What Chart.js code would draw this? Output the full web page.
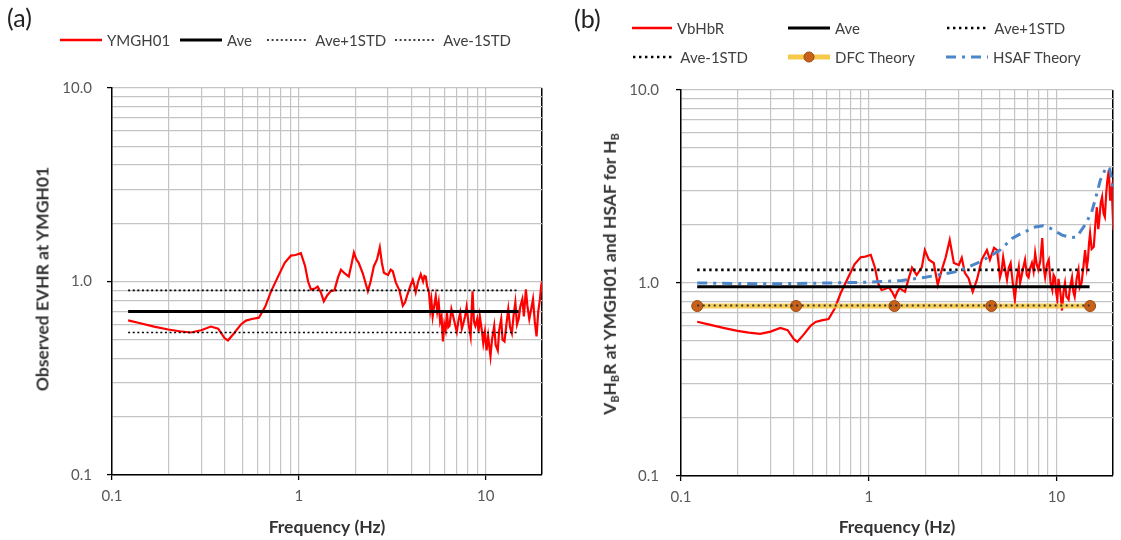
<!DOCTYPE html>
<html>
<head>
<meta charset="utf-8">
<script src="https://cdn.jsdelivr.net/npm/chart.js@4.4.0/dist/chart.umd.min.js"></script>
<style>
  body { margin: 0; background: #fff; font-family: Lato, "Liberation Sans", sans-serif; }
  #wrap { position: relative; width: 1121px; height: 540px; overflow: hidden; background: #fff; }
  canvas { position: absolute; top: 0; }
  .panel { position: absolute; font-size: 25px; color: #222; }
  .lg { position: absolute; display: flex; align-items: center; font-size: 15px; color: #404040; white-space: nowrap; transform: translateY(-50%); }
  .lg svg { margin-right: 5px; }
  .ytitle { position: absolute; font-size: 17.5px; font-weight: bold; color: #333; white-space: nowrap; transform: translate(-50%, -50%) rotate(-90deg); }
  .ytitle sub { font-size: 0.62em; vertical-align: -0.3em; }
</style>
</head>
<body>
<div id="wrap">
  <canvas id="chartA" width="560" height="540" style="left:0"></canvas>
  <canvas id="chartB" width="561" height="540" style="left:560px"></canvas>

  <div class="panel" style="left:7px;top:2px">(a)</div>
  <div class="panel" style="left:574px;top:3px">(b)</div>

  <!-- legend (a) -->
  <div class="lg" style="left:60px;top:40px"><svg width="42" height="10"><line x1="0" y1="5" x2="42" y2="5" stroke="#ff0000" stroke-width="2.5"/></svg>YMGH01</div>
  <div class="lg" style="left:180px;top:40px"><svg width="42" height="10"><line x1="0" y1="5" x2="42" y2="5" stroke="#000" stroke-width="3"/></svg>Ave</div>
  <div class="lg" style="left:267px;top:40px"><svg width="40" height="10"><line x1="0" y1="5" x2="40" y2="5" stroke="#000" stroke-width="1.6" stroke-dasharray="2 2.6"/></svg>&nbsp;Ave+1STD</div>
  <div class="lg" style="left:395px;top:40px"><svg width="40" height="10"><line x1="0" y1="5" x2="40" y2="5" stroke="#000" stroke-width="1.6" stroke-dasharray="2 2.6"/></svg>&nbsp;Ave-1STD</div>

  <!-- legend (b) -->
  <div class="lg" style="left:632px;top:28px"><svg width="40" height="12"><line x1="0" y1="6" x2="40" y2="6" stroke="#ff0000" stroke-width="2.5"/></svg>VbHbR</div>
  <div class="lg" style="left:788px;top:28px"><svg width="42" height="12"><line x1="0" y1="6" x2="42" y2="6" stroke="#000" stroke-width="3"/></svg>Ave</div>
  <div class="lg" style="left:946px;top:28px"><svg width="40" height="12"><line x1="1" y1="6" x2="40" y2="6" stroke="#000" stroke-width="2.6" stroke-dasharray="2.4 3.6"/></svg>&nbsp;Ave+1STD</div>
  <div class="lg" style="left:632px;top:57px"><svg width="40" height="12"><line x1="1" y1="6" x2="40" y2="6" stroke="#000" stroke-width="2.6" stroke-dasharray="2.4 3.6"/></svg>&nbsp;Ave-1STD</div>
  <div class="lg" style="left:788px;top:57px"><svg width="42" height="12"><line x1="0" y1="6" x2="42" y2="6" stroke="#f6c94a" stroke-width="5"/><circle cx="21" cy="6" r="5" fill="#c8621a" stroke="#9e480e" stroke-width="1"/></svg>DFC Theory</div>
  <div class="lg" style="left:946px;top:57px"><svg width="42" height="12"><line x1="0" y1="6" x2="42" y2="6" stroke="#4a86c8" stroke-width="3" stroke-dasharray="10 6 3 6"/></svg>HSAF Theory</div>

  <div class="ytitle" style="left:42px;top:279px">Observed EVHR at YMGH01</div>
  <div class="ytitle" style="left:610px;top:274px">V<sub>B</sub>H<sub>B</sub>R at YMGH01 and HSAF for H<sub>B</sub></div>
</div>

<script>
// shared low-frequency part of the observed ratio (both panels)
const lowFreq = [0.122, 0.14, 0.168, 0.2, 0.23, 0.264, 0.3, 0.338, 0.37, 0.4, 0.417, 0.45, 0.49, 0.521, 0.56, 0.611, 0.66, 0.709, 0.77, 0.84, 0.906, 0.96, 1.025, 1.08];
const lowVals = [0.63, 0.61, 0.585, 0.565, 0.553, 0.545, 0.56, 0.585, 0.57, 0.51, 0.496, 0.54, 0.6, 0.628, 0.64, 0.65, 0.74, 0.887, 1.05, 1.25, 1.36, 1.37, 1.40, 1.2];

// (a) YMGH01 above 1.1 Hz
const highFreqA = [1.12, 1.16, 1.22, 1.26, 1.31, 1.36, 1.42, 1.48, 1.55, 1.62, 1.68, 1.76, 1.85, 1.92, 1.97, 2.03, 2.09, 2.2, 2.34, 2.42,
  2.52, 2.62, 2.71, 2.78, 2.85, 3.0, 3.1, 3.18, 3.3, 3.45, 3.6, 3.7, 3.8, 3.95, 4.07, 4.15, 4.22, 4.35, 4.49, 4.62,
  4.7, 4.78, 4.85, 4.97, 5.05, 5.12, 5.2, 5.3, 5.4, 5.5, 5.6, 5.7, 5.8, 5.9, 6.0, 6.1, 6.2, 6.3, 6.4, 6.55,
  6.7, 6.85, 7.0, 7.15, 7.3, 7.45, 7.6, 7.75, 7.9, 8.1, 8.3, 8.4, 8.5, 8.65, 8.8, 9.0, 9.15, 9.3, 9.5, 9.7,
  9.9, 10.1, 10.3, 10.6, 10.8, 11.1, 11.3, 11.6, 11.8, 12.1, 12.3, 12.6, 12.9, 13.2, 13.5, 13.8, 14.1, 14.4, 14.7, 15.0,
  15.3, 15.7, 16.0, 16.4, 16.7, 17.1, 17.5, 17.9, 18.3, 18.7, 19.1, 19.5, 19.8, 20.0];
const highValsA = [1.0, 0.91, 0.92, 0.94, 0.88, 0.79, 0.85, 0.89, 0.9, 1.05, 1.15, 1.1, 1.06, 1.25, 1.41, 1.3, 1.25, 1.1, 0.89, 1.0,
  1.2, 1.3, 1.50, 1.25, 1.11, 1.08, 1.15, 1.13, 0.99, 0.9, 0.75, 0.78, 0.85, 0.95, 1.02, 0.95, 0.88, 1.0, 1.09, 1.0,
  1.07, 1.06, 0.95, 0.877, 0.72, 0.8, 0.66, 0.75, 0.84, 0.7, 0.78, 0.62, 0.66, 0.49, 0.6, 0.56, 0.69, 0.58, 0.59, 0.72,
  0.66, 0.6, 0.55, 0.63, 0.69, 0.57, 0.61, 0.66, 0.74, 0.6, 0.52, 0.7, 0.89, 0.62, 0.59, 0.64, 0.55, 0.66, 0.57, 0.48,
  0.55, 0.44, 0.52, 0.41, 0.5, 0.59, 0.47, 0.44, 0.56, 0.64, 0.5, 0.49, 0.6, 0.72, 0.58, 0.54, 0.67, 0.78, 0.6, 0.64,
  0.74, 0.81, 0.66, 0.91, 0.75, 0.64, 0.72, 0.81, 0.62, 0.52, 0.7, 0.81, 0.95, 1.0];

// (b) VbHbR above 1.1 Hz
const highFreqB = [1.12, 1.17, 1.22, 1.28, 1.33, 1.38, 1.42, 1.46, 1.56, 1.63, 1.7, 1.8, 1.92, 1.99, 2.09, 2.22, 2.33, 2.45, 2.57, 2.7,
  2.84, 3.02, 3.13, 3.25, 3.4, 3.58, 3.77, 4.0, 4.13, 4.26, 4.42, 4.65, 4.82, 4.92, 5.0, 5.1, 5.2, 5.3, 5.45, 5.57,
  5.7, 5.85, 6.0, 6.15, 6.3, 6.4, 6.5, 6.65, 6.8, 6.95, 7.1, 7.25, 7.4, 7.55, 7.7, 7.85, 8.0, 8.2, 8.4, 8.55,
  8.7, 8.9, 9.1, 9.3, 9.5, 9.65, 9.8, 9.95, 10.1, 10.25, 10.4, 10.55, 10.7, 10.9, 11.1, 11.3, 11.6, 11.8, 12.1, 12.3,
  12.5, 12.8, 13.1, 13.3, 13.6, 13.9, 14.2, 14.5, 14.7, 14.9, 15.1, 15.4, 15.8, 16.1, 16.4, 16.7, 16.9, 17.2, 17.5, 17.8,
  18.1, 18.4, 18.6, 19.0, 19.3, 19.5, 19.7, 19.9, 20.1];
const highValsB = [1.0, 0.92, 0.93, 0.95, 0.9, 0.84, 0.9, 0.94, 0.9, 1.05, 1.2, 1.1, 1.21, 1.48, 1.32, 1.27, 0.98, 1.17, 1.36, 1.67,
  1.27, 1.24, 1.35, 1.13, 1.06, 0.9, 1.04, 1.32, 1.4, 1.48, 1.32, 1.52, 1.48, 1.25, 1.07, 1.15, 1.36, 1.21, 1.04, 1.2,
  1.27, 1.0, 0.82, 1.05, 1.21, 1.0, 1.07, 1.2, 1.32, 1.1, 1.07, 1.2, 1.27, 1.15, 1.43, 1.25, 1.17, 1.3, 1.71, 1.2,
  1.07, 1.25, 1.32, 1.0, 0.92, 1.1, 1.07, 0.9, 0.82, 1.05, 0.95, 0.85, 0.72, 0.9, 1.0, 0.85, 0.82, 0.95, 1.07, 0.9,
  0.85, 1.05, 1.17, 0.95, 1.0, 1.2, 1.48, 1.2, 1.32, 1.6, 1.81, 1.5, 1.54, 2.0, 2.47, 1.9, 2.12, 2.6, 2.79, 2.3,
  2.2, 2.9, 3.3, 3.85, 2.7, 3.0, 3.14, 2.4, 1.88];

// theoretical curves (b)
const hsafFreq = [0.122, 0.3, 0.6, 1.0, 1.5, 2.0, 3.0, 4.0, 5.0, 5.8, 6.5, 7.7, 8.5, 9.2, 10.7, 12.0, 12.8, 14.2, 15.4, 16.4, 17.1, 18.0, 18.6, 19.2, 19.8, 20.0];
const hsafVals = [1.0, 0.99, 1.0, 1.01, 1.03, 1.07, 1.15, 1.3, 1.48, 1.7, 1.81, 1.95, 1.98, 1.93, 1.77, 1.72, 1.73, 2.0, 2.33, 2.9, 3.4, 3.8, 4.0, 3.9, 3.3, 3.0];
const dfcFreq = [0.122, 0.41, 1.37, 4.5, 15.1];
const dfcValue = 0.76;

// horizontal reference lines: [start, end] frequency and level
const aveSpan = [0.122, 15];
const aveA = 0.70, avePlusA = 0.90, aveMinusA = 0.545;
const aveB = 0.957, avePlusB = 1.17, aveMinusB = 0.765;

// axes
const xTickVals = [0.1, 0.2, 0.3, 0.4, 0.5, 0.6, 0.7, 0.8, 0.9, 1, 2, 3, 4, 5, 6, 7, 8, 9, 10, 20];
const yTickVals = [0.1, 0.2, 0.3, 0.4, 0.5, 0.6, 0.7, 0.8, 0.9, 1, 2, 3, 4, 5, 6, 7, 8, 9, 10];
const xTickLabels = { 0.1: '0.1', 1: '1', 10: '10' };
const yTickLabels = { 0.1: '0.1', 1: '1.0', 10: '10.0' };

Chart.defaults.font.family = 'Lato, "Liberation Sans", sans-serif';

const pts = (fs, vs) => fs.map((f, i) => ({ x: f, y: vs[i] }));
const flat = (span, v) => span.map(f => ({ x: f, y: v }));

const GRID = '#c4c4c4';

function makeAxes(yWidth, xHeight, yPad) {
    return {
        x: {
            type: 'logarithmic', min: 0.1, max: 20,
            afterBuildTicks: s => { s.ticks = xTickVals.map(v => ({ value: v })); },
            afterFit: s => { s.height = xHeight; },
            ticks: {
                autoSkip: false, maxRotation: 0, padding: 7,
                color: '#595959', font: { size: 15 },
                callback: v => xTickLabels[v] || ''
            },
            grid: {
                color: c => (c.tick && c.tick.value === 20) ? '#000' : GRID,
                lineWidth: c => (c.tick && c.tick.value === 20) ? 1.5 : 1.2,
                tickLength: 5,
                tickColor: c => (c.tick && xTickLabels[c.tick.value]) ? '#000' : 'rgba(0,0,0,0)',
                tickWidth: 1.3
            },
            border: { color: '#000', width: 1.5 }
        },
        y: {
            type: 'logarithmic', min: 0.1, max: 10,
            afterBuildTicks: s => { s.ticks = yTickVals.map(v => ({ value: v })); },
            afterFit: s => { s.width = yWidth; },
            ticks: {
                autoSkip: false, padding: yPad,
                color: '#595959', font: { size: 15 },
                callback: v => yTickLabels[v] || ''
            },
            grid: {
                color: GRID, lineWidth: 1.2,
                tickLength: 5,
                tickColor: c => (c.tick && yTickLabels[c.tick.value]) ? '#000' : 'rgba(0,0,0,0)',
                tickWidth: 1.3
            },
            border: { color: '#000', width: 1.5 }
        }
    };
}

// x-axis title drawn on the canvas
function xTitlePlugin(text) {
    return {
        id: 'xTitle',
        afterDraw(chart) {
            const ctx = chart.ctx;
            const a = chart.chartArea;
            ctx.save();
            ctx.font = 'bold 17.5px Lato, "Liberation Sans", sans-serif';
            ctx.fillStyle = '#333';
            ctx.textAlign = 'center';
            ctx.textBaseline = 'middle';
            ctx.fillText(text, (a.left + a.right) / 2, 527);
            ctx.restore();
        }
    };
}

const baseOpts = {
    responsive: false, animation: false,
    plugins: { legend: { display: false }, tooltip: { enabled: false } },
    elements: { point: { radius: 0 }, line: { tension: 0 } }
};

new Chart(document.getElementById('chartA'), {
    type: 'line',
    data: {
        datasets: [
            { data: flat(aveSpan, aveMinusA), borderColor: '#000', borderWidth: 1.6, borderDash: [2, 2.6] },
            { data: flat(aveSpan, avePlusA), borderColor: '#000', borderWidth: 1.6, borderDash: [2, 2.6] },
            { data: flat(aveSpan, aveA), borderColor: '#000', borderWidth: 3 },
            { data: pts(lowFreq.concat(highFreqA), lowVals.concat(highValsA)), borderColor: '#ff0000', borderWidth: 2.2 }
        ]
    },
    options: Object.assign({}, baseOpts, {
        layout: { padding: { top: 88, right: 18, left: 0, bottom: 0 } },
        scales: makeAxes(112, 65, 15)
    }),
    plugins: [xTitlePlugin('Frequency (Hz)')]
});

new Chart(document.getElementById('chartB'), {
    type: 'line',
    data: {
        datasets: [
            { data: pts(hsafFreq, hsafVals), borderColor: '#4a86c8', borderWidth: 3, borderDash: [10, 6, 3, 6] },
            { data: flat(aveSpan, aveMinusB), borderColor: '#333', borderWidth: 2, borderDash: [2, 3.5] },
            { data: dfcFreq.map(f => ({ x: f, y: dfcValue })), borderColor: 'rgba(246,196,60,0.85)', borderWidth: 5,
              pointRadius: 5.5, pointBackgroundColor: '#c8621a', pointBorderColor: '#9e480e', pointBorderWidth: 1 },
            { data: flat(aveSpan, avePlusB), borderColor: '#000', borderWidth: 2.6, borderDash: [2.4, 3.6] },
            { data: flat(aveSpan, aveB), borderColor: '#000', borderWidth: 3 },
            { data: pts(lowFreq.concat(highFreqB), lowVals.concat(highValsB)), borderColor: '#ff0000', borderWidth: 2.2 }
        ]
    },
    options: Object.assign({}, baseOpts, {
        layout: { padding: { top: 90, right: 8, left: 0, bottom: 0 } },
        scales: makeAxes(121, 64, 17)
    }),
    plugins: [xTitlePlugin('Frequency (Hz)')]
});
</script>
</body>
</html>
